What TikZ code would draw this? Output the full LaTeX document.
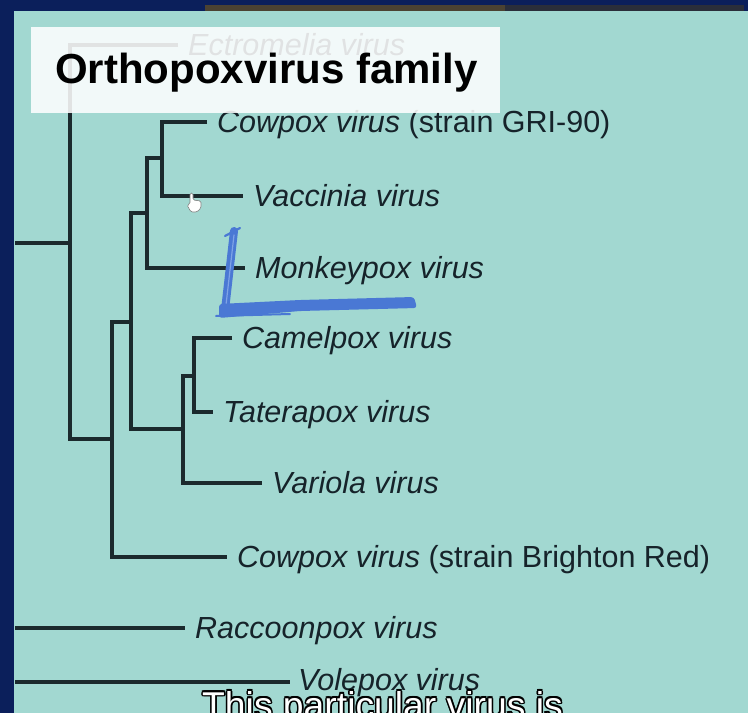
\documentclass[tikz,border=0pt]{standalone}
\usepackage{fontspec}
\setmainfont{Liberation Sans}
\usetikzlibrary{calc}
\definecolor{navy}{HTML}{0B1F5B}
\definecolor{teal}{HTML}{A2D8D1}
\definecolor{linec}{HTML}{1B2A2D}
\definecolor{txt}{HTML}{16232A}
\definecolor{scrib}{HTML}{4A78D4}
\definecolor{scribl}{HTML}{7FA3E6}
\definecolor{topbrown}{HTML}{4B4232}
\definecolor{topdark}{HTML}{2A2E3A}
\newcommand{\leaffont}{\fontsize{30.5}{34}\selectfont}
\newcommand{\subfont}{\fontsize{37.3}{41}\selectfont}
\begin{document}
\begin{tikzpicture}[x=1pt,y=-1pt,
  br/.style={draw=linec,line width=3.1pt,line join=miter},
  leaf/.style={anchor=west,inner xsep=10pt,inner ysep=0pt,text height=21pt,text depth=0pt,font=\leaffont,text=txt},
  scribble/.style={draw=scrib,line cap=round,line join=round}]
% background and frame
\fill[navy] (0,0) rectangle (748,713);
\useasboundingbox (0,0) rectangle (748,713);
\fill[teal] (14,11) rectangle (748,713);
\fill[topbrown] (205,5) rectangle (505,11);
\fill[topdark] (505,5) rectangle (744,11);
% junctions
\coordinate (root) at (15,243);
\coordinate (a) at (70,243);
\coordinate (b) at (112,439);
\coordinate (c) at (131,322);
\coordinate (d) at (147,213);
\coordinate (e) at (162,158);
\coordinate (f) at (183,429);
\coordinate (g) at (194,376);
\coordinate (rs) at (15,628);
\coordinate (vs) at (15,682);
% leaves
\node[leaf] (ect)  at (178,45)  {\textit{Ectromelia virus}};
\node[leaf] (cgri) at (207,122) {\textit{Cowpox virus} (strain GRI-90)};
\node[leaf] (vac)  at (243,196) {\textit{Vaccinia virus}};
\node[leaf] (mon)  at (245,268) {\textit{Monkeypox virus}};
\node[leaf] (cam)  at (232,338) {\textit{Camelpox virus}};
\node[leaf] (tat)  at (213,412) {\textit{Taterapox virus}};
\node[leaf] (var)  at (262,483) {\textit{Variola virus}};
\node[leaf] (cbr)  at (227,557) {\textit{Cowpox virus} (strain Brighton Red)};
\node[leaf] (rac)  at (185,628) {\textit{Raccoonpox virus}};
\node[leaf,inner xsep=8pt,text height=16pt] (vol) at (290,682) {\textit{Volepox virus}};
% branches
\draw[br] (root) -- (a);
\draw[br] (ect.west) -| (a) |- (b);
\draw[br] (c) -| (b) |- (cbr.west);
\draw[br] (d) -| (c) |- (f);
\draw[br] (e) -| (d) |- (mon.west);
\draw[br] (cgri.west) -| (e) |- (vac.west);
\draw[br] (g) -| (f) |- (var.west);
\draw[br] (cam.west) -| (g) |- (tat.west);
\draw[br] (rs) -- (rac.west);
\draw[br] (vs) -- (vol.west);
% title box
\fill[white,fill opacity=0.87] (31,27) rectangle (500,113);
\node[anchor=base west,inner sep=0pt,font=\fontsize{42}{46}\selectfont\bfseries,text=black] (title) at (55,83) {Orthopoxvirus family};
% blue scribble
\draw[scribble,line width=8pt] (234,231) -- (225,310);
\draw[draw=scribl,line width=1.2pt,line cap=round] (234,235) -- (226,305);
\draw[scribble,line width=2.2pt] (225,236) -- (240,228);
\fill[scrib,rounded corners=3pt] (219,304) -- (300,300) -- (414,297) -- (417,308) -- (300,311) -- (219,318) -- cycle;
\draw[scribble,line width=2pt] (216,316) -- (290,314);
% cursor
\filldraw[fill=white,draw=gray,line width=0.6pt,rounded corners=1.5pt]
  (190,193) -- (193,193) -- (193,200) -- (201,201) -- (201,208) -- (197,212) -- (191,212) -- (187,205) -- (190,204) -- cycle;
% subtitle with outline
\foreach \dx/\dy in {-1.6/0,1.6/0,0/-1.6,0/1.6,-1.15/-1.15,1.15/1.15,-1.15/1.15,1.15/-1.15}{
  \node[anchor=base west,inner sep=0pt,font=\subfont,text=black] at ($(202,718)+(\dx,\dy)$) {This particular virus is};
}
\node[anchor=base west,inner sep=0pt,font=\subfont,text=white] (sub) at (202,718) {This particular virus is};
\end{tikzpicture}
\end{document}
